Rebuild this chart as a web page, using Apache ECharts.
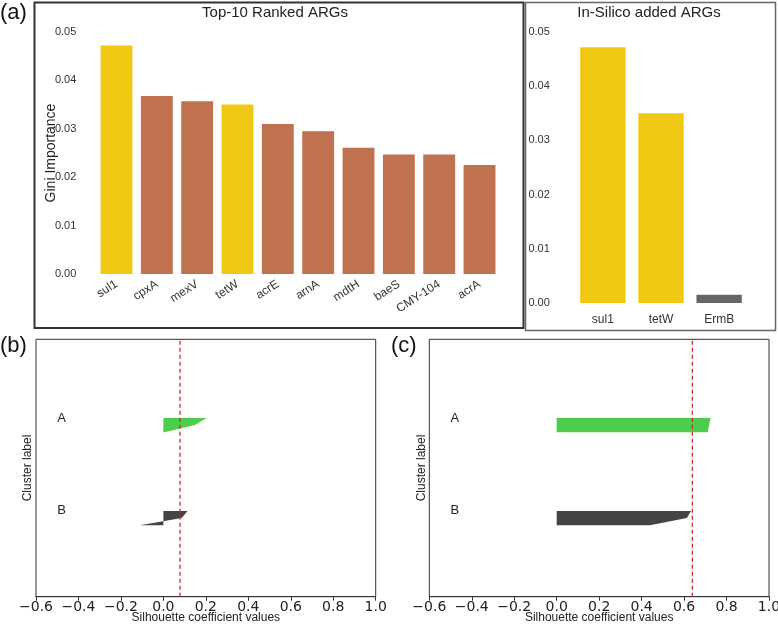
<!DOCTYPE html>
<html>
<head>
<meta charset="utf-8">
<script src="https://cdn.jsdelivr.net/npm/echarts@6/dist/echarts.min.js"></script>
<style>html,body{margin:0;padding:0;background:#fff}#c{width:778px;height:624px}</style>
</head>
<body>
<div id="c"></div>
<script>
// ---- data ----
const top10Genes = ['sul1', 'cpxA', 'mexV', 'tetW', 'acrE', 'arnA', 'mdtH', 'baeS', 'CMY-104', 'acrA'];
const top10Gini = [0.0472, 0.0368, 0.0357, 0.0350, 0.0310, 0.0295, 0.0261, 0.0247, 0.0247, 0.0225];
const addedGenes = ['sul1', 'tetW', 'ErmB'];
const addedGini = [0.0472, 0.0350, 0.0015];
const inSilicoGenes = ['sul1', 'tetW'];
const giniTicks = [0, 0.01, 0.02, 0.03, 0.04, 0.05];

const clusterNames = ['B', 'A'];               // bottom to top
const silB_valuesB = [-0.11, 0.086, 0.114];   // panel (b), cluster B, sorted
const silB_valuesA = [0.004, 0.149, 0.204];   // panel (b), cluster A, sorted
const silC_valuesB = [0.439, 0.613, 0.633];   // panel (c), cluster B
const silC_valuesA = [0.711, 0.718, 0.725];   // panel (c), cluster A
const silB_avg = 0.078;
const silC_avg = 0.639;
const silXTicks = [-0.6, -0.4, -0.2, 0.0, 0.2, 0.4, 0.6, 0.8, 1.0];

// ---- styles ----
const YELLOW = '#F0C814', BROWN = '#C0714F', GRAYBAR = '#666666';
const GREEN = '#4CCD4C', DARK = '#444444', RED = '#D62728';
const SANS = 'Liberation Sans, Arial, sans-serif';
const DJV = 'DejaVu Sans, sans-serif';

// silhouette layout (sklearn style: y_lower starts at 10, gap 10)
function buildClusters(valsList) {
  let yLower = 10;
  return valsList.map((vals, i) => {
    const c = { name: clusterNames[i], values: vals, yLower: yLower };
    yLower = yLower + vals.length + 10;
    return c;
  });
}
const clustersB = buildClusters([silB_valuesB, silB_valuesA]);
const clustersC = buildClusters([silC_valuesB, silC_valuesA]);
const silYMax = 6 + 3 * 10;

function silSeries(idx, clusters) {
  const colors = [DARK, GREEN];
  return {
    type: 'custom', xAxisIndex: idx, yAxisIndex: idx,
    data: clusters.map((c, i) => [i]),
    silent: true,
    renderItem: function (params, api) {
      const c = clusters[params.dataIndex];
      const n = c.values.length;
      const pts = [api.coord([0, c.yLower])];
      c.values.forEach((v, k) => pts.push(api.coord([v, c.yLower + k])));
      pts.push(api.coord([0, c.yLower + n - 1]));
      const lp = api.coord([-0.5, c.yLower + n - 1]);
      return {
        type: 'group',
        children: [
          { type: 'polygon', shape: { points: pts }, style: { fill: colors[params.dataIndex], stroke: null } },
          { type: 'text', x: lp[0], y: lp[1], style: { text: c.name, fill: '#222', font: '13px ' + SANS, align: 'left', verticalAlign: 'middle' } }
        ]
      };
    }
  };
}
function avgLine(idx, avg) {
  return {
    type: 'line', xAxisIndex: idx, yAxisIndex: idx, silent: true, symbol: 'none',
    data: [[avg, 0], [avg, silYMax]],
    lineStyle: { color: RED, width: 1.3, type: [4, 3] }
  };
}
function silX(idx) {
  return {
    gridIndex: idx, type: 'value', min: -0.6, max: 1.0, interval: 0.2,
    axisLine: { show: true, lineStyle: { color: '#333', width: 1 } },
    axisTick: { show: true, length: 4, inside: false, lineStyle: { color: '#333' } },
    splitLine: { show: false },
    axisLabel: { fontFamily: DJV, fontSize: 14, color: '#222', margin: 4,
      formatter: v => (Math.abs(v) < 1e-9 ? '0.0' : v.toFixed(1)).replace('-', '\u2212') },
    name: 'Silhouette coefficient values', nameLocation: 'middle', nameGap: 21, nameMoveOverlap: false,
    nameTextStyle: { fontFamily: SANS, fontSize: 12, color: '#222', verticalAlign: 'middle' }
  };
}
function silY(idx) {
  return {
    gridIndex: idx, type: 'value', min: 0, max: silYMax,
    axisLine: { show: false }, axisTick: { show: false }, axisLabel: { show: false }, splitLine: { show: false },
    name: 'Cluster label', nameLocation: 'middle', nameGap: 2, nameMoveOverlap: false,
    nameTextStyle: { fontFamily: SANS, fontSize: 12, color: '#222' }
  };
}

const chart = echarts.init(document.getElementById('c'), null, { renderer: 'canvas' });
chart.setOption({
  animation: false,
  backgroundColor: '#fff',
  grid: [
    { left: 96.3, right: 278.3, top: 32, bottom: 350, outerBoundsMode: 'none' },
    { left: 573.8, right: 29.8, top: 32, bottom: 321, outerBoundsMode: 'none' },
    { left: 36, right: 402.3, top: 339.3, bottom: 27.3, outerBoundsMode: 'none', show: true, borderColor: '#333', borderWidth: 1, backgroundColor: 'transparent' },
    { left: 429.3, right: 9, top: 339.3, bottom: 27.3, outerBoundsMode: 'none', show: true, borderColor: '#333', borderWidth: 1, backgroundColor: 'transparent' }
  ],
  xAxis: [
    { gridIndex: 0, type: 'category', data: top10Genes, axisLine: { show: false }, axisTick: { show: false },
      axisLabel: { rotate: 33, interval: 0, fontFamily: SANS, fontSize: 12, color: '#333', margin: 9 } },
    { gridIndex: 1, type: 'category', data: addedGenes, axisLine: { show: false }, axisTick: { show: false },
      axisLabel: { interval: 0, fontFamily: SANS, fontSize: 12, color: '#333', margin: 11 } },
    silX(2), silX(3)
  ],
  yAxis: [
    { gridIndex: 0, type: 'value', min: giniTicks[0], max: giniTicks[giniTicks.length - 1], interval: 0.01,
      axisLine: { show: false }, axisTick: { show: false }, splitLine: { show: false },
      axisLabel: { fontFamily: SANS, fontSize: 11, color: '#333', margin: 20, formatter: v => v.toFixed(2) },
      name: 'Gini Importance', nameLocation: 'middle', nameGap: 45, nameMoveOverlap: false,
      nameTextStyle: { fontFamily: SANS, fontSize: 14, color: '#222', verticalAlign: 'middle' } },
    { gridIndex: 1, type: 'value', min: giniTicks[0], max: giniTicks[giniTicks.length - 1], interval: 0.01,
      axisLine: { show: false }, axisTick: { show: false }, splitLine: { show: false },
      axisLabel: { fontFamily: SANS, fontSize: 11, color: '#333', margin: 24, formatter: v => v.toFixed(2) } },
    silY(2), silY(3)
  ],
  series: [
    { type: 'bar', xAxisIndex: 0, yAxisIndex: 0, barWidth: '79%', silent: true,
      data: top10Gini.map((v, i) => ({ value: v, itemStyle: { color: inSilicoGenes.includes(top10Genes[i]) ? YELLOW : BROWN } })) },
    { type: 'bar', xAxisIndex: 1, yAxisIndex: 1, barWidth: '78%', silent: true,
      data: addedGini.map((v, i) => ({ value: v, itemStyle: { color: inSilicoGenes.includes(addedGenes[i]) ? YELLOW : GRAYBAR } })) },
    silSeries(2, clustersB), avgLine(2, silB_avg),
    silSeries(3, clustersC), avgLine(3, silC_avg)
  ],
  graphic: [
    { type: 'rect', shape: { x: 34.5, y: 2.5, width: 489, height: 325.5 }, style: { fill: null, stroke: '#333', lineWidth: 2 }, silent: true },
    { type: 'rect', shape: { x: 525.5, y: 2.5, width: 250, height: 328 }, style: { fill: null, stroke: '#666', lineWidth: 1.5 }, silent: true },
    { type: 'text', x: 275, y: 13, style: { text: 'Top-10 Ranked ARGs', font: '15px ' + SANS, fill: '#222', align: 'center', verticalAlign: 'middle' } },
    { type: 'text', x: 649, y: 13, style: { text: 'In-Silico added ARGs', font: '15px ' + SANS, fill: '#222', align: 'center', verticalAlign: 'middle' } },
    { type: 'text', x: 0, y: 13, style: { text: '(a)', font: '22px ' + SANS, fill: '#111', align: 'left', verticalAlign: 'middle' } },
    { type: 'text', x: 0, y: 346, style: { text: '(b)', font: '22px ' + SANS, fill: '#111', align: 'left', verticalAlign: 'middle' } },
    { type: 'text', x: 391, y: 346, style: { text: '(c)', font: '22px ' + SANS, fill: '#111', align: 'left', verticalAlign: 'middle' } }
  ]
});
</script>
</body>
</html>
